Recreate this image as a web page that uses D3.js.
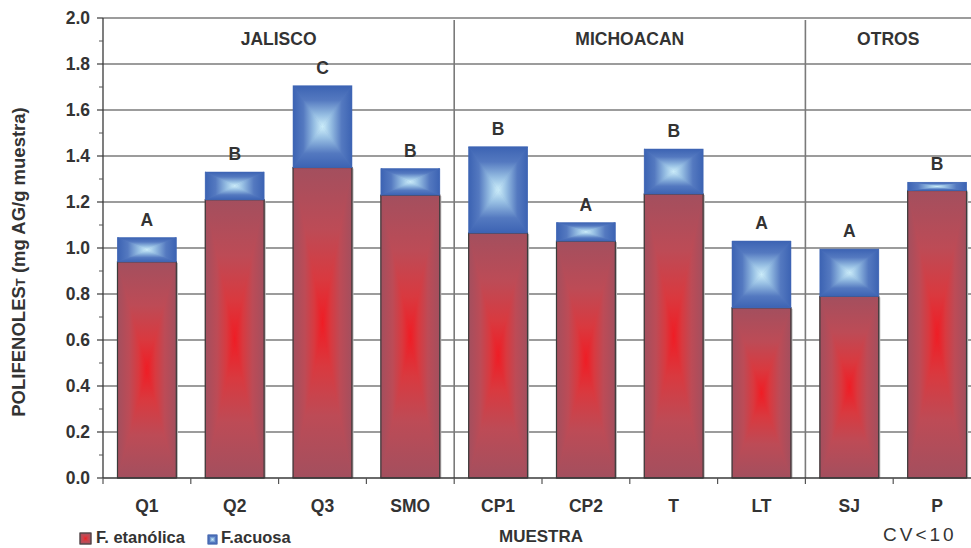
<!DOCTYPE html>
<html><head><meta charset="utf-8">
<script src="https://cdn.jsdelivr.net/npm/d3@7"></script>
<style>
html,body{margin:0;padding:0;background:#fff;}
svg{display:block;font-family:"Liberation Sans",Arial,sans-serif;}
</style></head>
<body><svg id="chart" width="971" height="548"></svg>
<script>
const categories = ["Q1","Q2","Q3","SMO","CP1","CP2","T","LT","SJ","P"];
const etanolica  = [0.94, 1.21, 1.35, 1.23, 1.065, 1.03, 1.235, 0.74, 0.79, 1.25];
const acuosa     = [0.105, 0.12, 0.355, 0.115, 0.375, 0.08, 0.195, 0.29, 0.205, 0.035];
const letters    = ["A","B","C","B","B","A","B","A","A","B"];
const groupNames = ["JALISCO","MICHOACAN","OTROS"];
const groupFirst = ["Q1","CP1","SJ"];
const groupLast  = ["SMO","LT","P"];
const yTicks     = [0,0.2,0.4,0.6,0.8,1.0,1.2,1.4,1.6,1.8,2.0];
const yMinor     = [0.1,0.3,0.5,0.7,0.9,1.1,1.3,1.5,1.7,1.9];
const seriesNames = ["F. etanólica","F.acuosa"];

const svg = d3.select("#chart");
const TXT = "#333";
const x = d3.scaleBand().domain(categories).range([103, 981]).paddingInner(0.33).paddingOuter(0.165);
const y = d3.scaleLinear().domain([0, 2]).range([478, 18]);
const step = x.step();
const slotLeft = c => x(c) - (step - x.bandwidth()) / 2;

// gradients
const defs = svg.append("defs");
const palettes = {
  red: [[0,"#a34f5e"],[0.4,"#bd4b56"],[0.72,"#d9393f"],[1,"#f01c24"]],
  blue:[[0,"#3c63b3"],[0.35,"#5479c0"],[0.72,"#97bfe3"],[1,"#cdeefa"]]
};
const dirs = {top:[0,0,0,1], bottom:[0,1,0,0], left:[0,0,1,0], right:[1,0,0,0]};
Object.entries(palettes).forEach(([name, stops]) => {
  Object.entries(dirs).forEach(([d, v]) => {
    const g = defs.append("linearGradient").attr("id", `${name}-${d}`)
      .attr("x1", v[0]).attr("y1", v[1]).attr("x2", v[2]).attr("y2", v[3]);
    stops.forEach(s => g.append("stop").attr("offset", s[0]).attr("stop-color", s[1]));
  });
});
function boxFill(g, x0, y0, w, h, pal) {
  const x1 = x0 + w, y1 = y0 + h, cx = x0 + w / 2, cy = y0 + h / 2;
  g.append("rect").attr("x", x0).attr("y", y0).attr("width", w).attr("height", h).attr("fill", palettes[pal][1][1]);
  const tris = {
    top: [[x0,y0],[x1,y0],[cx,cy]],
    bottom: [[x0,y1],[x1,y1],[cx,cy]],
    left: [[x0,y0],[x0,y1],[cx,cy]],
    right: [[x1,y0],[x1,y1],[cx,cy]]
  };
  Object.entries(tris).forEach(([d, pts]) => {
    g.append("polygon").attr("points", pts.map(p => p.join(",")).join(" "))
      .attr("fill", `url(#${pal}-${d})`).attr("stroke", `url(#${pal}-${d})`).attr("stroke-width", 0.6);
  });
}

// gridlines
svg.append("g").selectAll("line").data(yTicks.filter(t => t > 0)).join("line")
  .attr("x1", 103).attr("x2", 981).attr("y1", d => y(d)).attr("y2", d => y(d))
  .attr("stroke", "#3a3a3a").attr("stroke-width", 1.2);

// group separators
const sepX = groupFirst.slice(1).map(c => slotLeft(c));
svg.append("g").selectAll("line").data(sepX).join("line")
  .attr("x1", d => d).attr("x2", d => d).attr("y1", 20).attr("y2", 478)
  .attr("stroke", "#7a7a7a").attr("stroke-width", 1.6);

// group labels
svg.append("g").selectAll("text").data(groupNames).join("text")
  .attr("x", (d, i) => {
    const a = slotLeft(groupFirst[i]);
    const b = Math.min(971, slotLeft(groupLast[i]) + step);
    return (a + b) / 2;
  })
  .attr("y", 45).attr("text-anchor", "middle").attr("font-weight", "bold")
  .attr("font-size", 17.5).attr("fill", TXT).text(d => d);

// bars
const bars = svg.append("g");
categories.forEach((c, i) => {
  const g = bars.append("g");
  const x0 = x(c), w = x.bandwidth();
  const yE = y(etanolica[i]), yT = y(etanolica[i] + acuosa[i]);
  g.append("rect").attr("x", x0 + w).attr("y", yE + 1).attr("width", 1.6).attr("height", y(0) - yE - 1).attr("fill", "#b8b8b8");
  boxFill(g, x0, yE, w, y(0) - yE, "red");
  g.append("rect").attr("x", x0).attr("y", yE).attr("width", w).attr("height", y(0) - yE)
    .attr("fill", "none").attr("stroke", "#3b3b3b").attr("stroke-width", 1.2);
  boxFill(g, x0, yT, w, yE - yT, "blue");
  g.append("text").attr("x", x0 + w / 2).attr("y", yT - 12).attr("text-anchor", "middle")
    .attr("font-weight", "bold").attr("font-size", 17.5).attr("fill", TXT).text(letters[i]);
});

// axes lines
svg.append("line").attr("x1", 103).attr("x2", 981).attr("y1", y(0)).attr("y2", y(0)).attr("stroke", "#3a3a3a").attr("stroke-width", 1.3);
svg.append("line").attr("x1", 103).attr("x2", 103).attr("y1", y(2)).attr("y2", y(0)).attr("stroke", "#3a3a3a").attr("stroke-width", 1.3);

// y ticks
const yAxis = svg.append("g");
yAxis.selectAll("line.maj").data(yTicks).join("line").attr("class", "maj")
  .attr("x1", 97).attr("x2", 103).attr("y1", d => y(d)).attr("y2", d => y(d)).attr("stroke", "#3a3a3a").attr("stroke-width", 1.2);
yAxis.selectAll("line.min").data(yMinor).join("line").attr("class", "min")
  .attr("x1", 99).attr("x2", 103).attr("y1", d => y(d)).attr("y2", d => y(d)).attr("stroke", "#555").attr("stroke-width", 1);
yAxis.selectAll("text").data(yTicks).join("text")
  .attr("x", 90).attr("y", d => y(d)).attr("dy", "0.36em").attr("text-anchor", "end")
  .attr("font-weight", "bold").attr("font-size", 17.5).attr("fill", TXT).text(d => d.toFixed(1));

// x ticks at slot boundaries
const bounds = categories.map(c => slotLeft(c)).concat([slotLeft(categories[categories.length - 1]) + step]);
svg.append("g").selectAll("line").data(bounds).join("line")
  .attr("x1", d => d).attr("x2", d => d).attr("y1", y(0)).attr("y2", y(0) + 6)
  .attr("stroke", "#555").attr("stroke-width", 1.2);
svg.append("g").selectAll("text").data(categories).join("text")
  .attr("x", d => x(d) + x.bandwidth() / 2).attr("y", 512).attr("text-anchor", "middle")
  .attr("font-weight", "bold").attr("font-size", 17.5).attr("fill", TXT).text(d => d);

// y title
const yt = svg.append("text").attr("transform", "translate(25,262) rotate(-90)")
  .attr("text-anchor", "middle").attr("font-weight", "bold").attr("font-size", 18.5).attr("fill", TXT);
yt.append("tspan").text("POLIFENOLES");
yt.append("tspan").attr("font-size", 13).text("T");
yt.append("tspan").text(" (mg AG/g muestra)");

// x title
svg.append("text").attr("x", 541).attr("y", 542).attr("text-anchor", "middle")
  .attr("font-weight", "bold").attr("font-size", 17).attr("fill", TXT).text("MUESTRA");

// legend
const lg = svg.append("g");
const sw1 = lg.append("g");
boxFill(sw1, 80, 533, 11, 11, "red");
sw1.append("rect").attr("x", 80).attr("y", 533).attr("width", 11).attr("height", 11).attr("fill", "none").attr("stroke", "#444").attr("stroke-width", 1.2);
lg.append("text").attr("x", 96).attr("y", 543).attr("font-weight", "bold").attr("font-size", 16.5).attr("fill", TXT).text(seriesNames[0]);
const sw2 = lg.append("g");
boxFill(sw2, 208, 535, 9, 9, "blue");
sw2.append("rect").attr("x", 208).attr("y", 535).attr("width", 9).attr("height", 9).attr("fill", "none").attr("stroke", "#4a6bb0").attr("stroke-width", 1);
lg.append("text").attr("x", 221).attr("y", 543).attr("font-weight", "bold").attr("font-size", 16.5).attr("fill", TXT).text(seriesNames[1]);

// CV note
svg.append("text").attr("x", 883).attr("y", 541).attr("font-size", 19).attr("letter-spacing", 3)
  .attr("fill", TXT).text("CV<10");
</script></body></html>
